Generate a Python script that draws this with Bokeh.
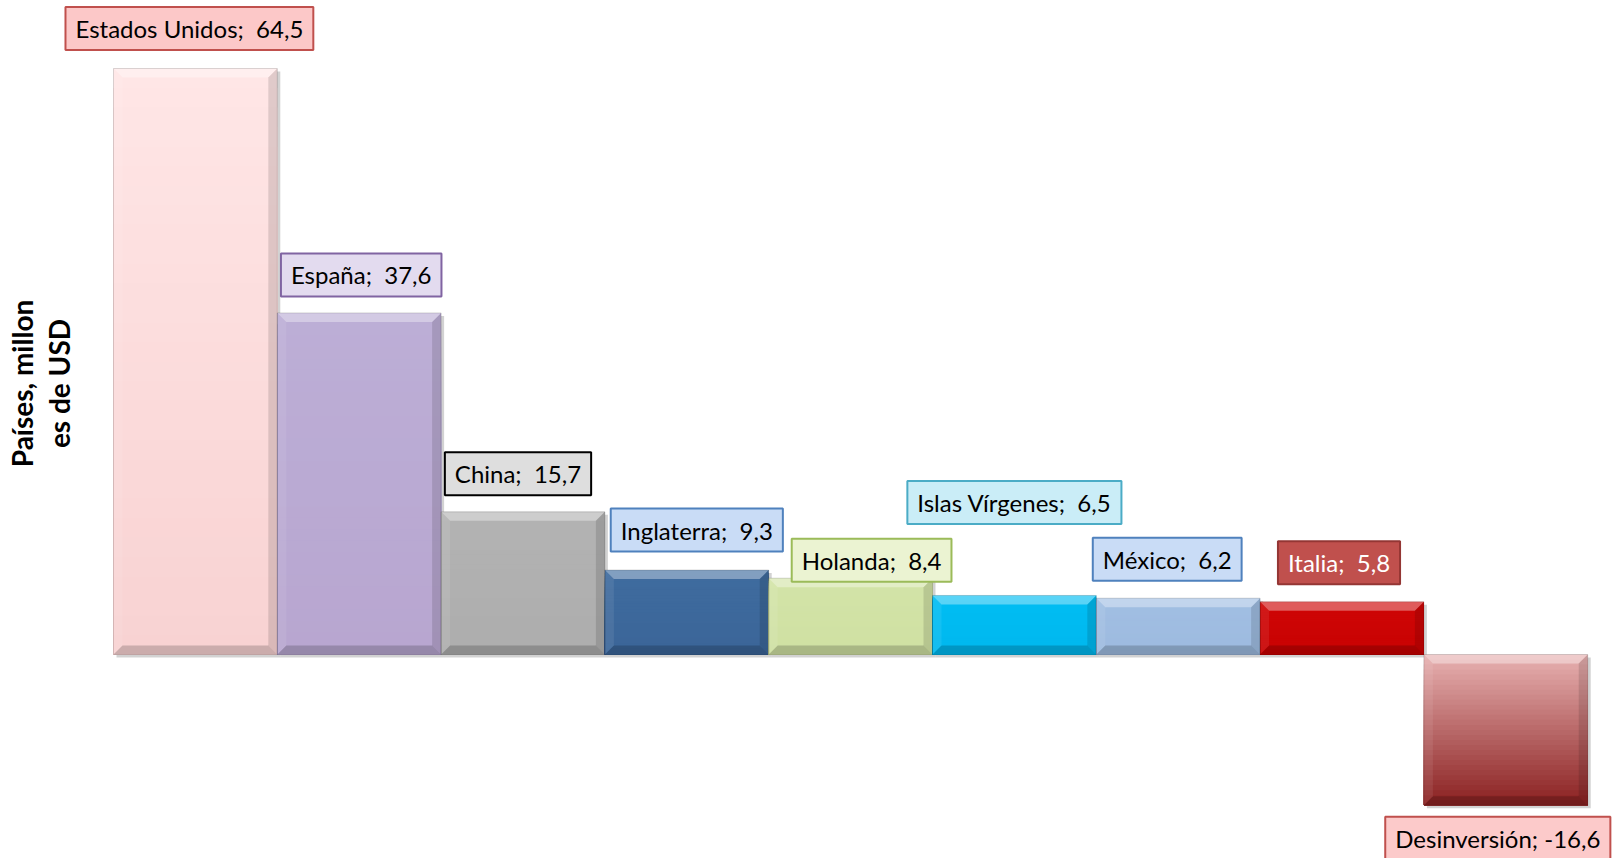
import math
from bokeh.plotting import figure
from bokeh.models import Range1d, Label
from bokeh.embed import file_html
from bokeh.resources import INLINE

# ---- data ----
paises = ["Estados Unidos", "España", "China", "Inglaterra", "Holanda",
          "Islas Vírgenes", "México", "Italia", "Desinversión"]
valores = [64.5, 37.6, 15.7, 9.3, 8.4, 6.5, 6.2, 5.8, -16.6]
titulo_y = "Países, millon\nes de USD"

# ---- styles ----
col_top = ["#ffe6e6", "#bcaed6", "#b3b3b3", "#3f6c9f", "#d3e4a8",
           "#00bdf3", "#a1bfe3", "#cf0606", "#e8b2b2"]
col_bot = ["#f8d2d2", "#b8a6d0", "#adadad", "#3b6598", "#cfe0a2",
           "#00b8ee", "#9dbadf", "#c80202", "#8a2020"]
lab_bg = ["#fcc8c8", "#e3dbef", "#dedede", "#c9dcf6", "#ebf3d2",
          "#caedf7", "#c9dcf6", "#c0504d", "#fccaca"]
lab_border = ["#c0504d", "#8064a2", "#000000", "#4f81bd", "#9bbb59",
              "#4bacc6", "#4f81bd", "#943634", "#c0504d"]
lab_text = ["#000000"] * 7 + ["#ffffff", "#000000"]
# label centre offsets (pixels) from bar end
lab_dx = [-6, 2, -5, 10, 21, 0, -11, -3, -8]
lab_dy = [40, 38, 38, 40, 18, 93, 39, 39, -33]
FONT = "Lato"

W, H = 1614, 858
PPX, PPY = 163.8, 9.085
x0 = -0.5 - 113 / PPX
y1 = 654 / PPY

p = figure(width=W, height=H, output_backend="svg", toolbar_location=None,
           x_range=Range1d(x0, x0 + W / PPX), y_range=Range1d(y1 - H / PPY, y1),
           x_axis_location=None, y_axis_location=None, min_border=0)
p.grid.visible = False
p.outline_line_color = None
p.background_fill_color = "white"


def hex2rgb(h):
    h = h.lstrip("#")
    return tuple(int(h[i:i + 2], 16) for i in (0, 2, 4))


def mix(a, b, t):
    ra, rb = hex2rgb(a), hex2rgb(b)
    return "#%02x%02x%02x" % tuple(int(round(ra[k] + (rb[k] - ra[k]) * t)) for k in range(3))


n = len(valores)
lefts = [i - 0.5 for i in range(n)]
rights = [i + 0.5 for i in range(n)]
tops = [max(v, 0) for v in valores]
bots = [min(v, 0) for v in valores]

# drop shadows
sx, sy = 3 / PPX, 3 / PPY
p.quad(left=[l + sx for l in lefts], right=[r + sx for r in rights],
       top=[t - sy for t in tops], bottom=[b - sy for b in bots],
       fill_color="#7f7f7f", fill_alpha=0.35, line_color=None)

# gradient bars: each strip runs from its top down to the bar bottom (no seams)
NS = 30
ql, qr, qt, qb, qc = [], [], [], [], []
for i in range(n):
    for k in range(NS):
        t0 = tops[i] - (tops[i] - bots[i]) * k / NS
        ql.append(lefts[i]); qr.append(rights[i])
        qt.append(t0); qb.append(bots[i])
        qc.append(mix(col_top[i], col_bot[i], (k + 0.5) / NS))
p.quad(left=ql, right=qr, top=qt, bottom=qb, fill_color=qc, line_color=None)

# bevel
bx, by = 9 / PPX, 9 / PPY
txs, tys, bxs, bys, rxs, rys, lxs, lys = [], [], [], [], [], [], [], []
for i in range(n):
    l, r, t, b = lefts[i], rights[i], tops[i], bots[i]
    txs.append([l, r, r - bx, l + bx]); tys.append([t, t, t - by, t - by])
    bxs.append([l, r, r - bx, l + bx]); bys.append([b, b, b + by, b + by])
    rxs.append([r, r, r - bx, r - bx]); rys.append([t, b, b + by, t - by])
    lxs.append([l, l, l + bx, l + bx]); lys.append([t, b, b + by, t - by])
p.patches(txs, tys, fill_color="white", fill_alpha=0.35, line_color=None)
p.patches(lxs, lys, fill_color="white", fill_alpha=0.08, line_color=None)
p.patches(rxs, rys, fill_color="black", fill_alpha=0.12, line_color=None)
p.patches(bxs, bys, fill_color="black", fill_alpha=0.18, line_color=None)
p.quad(left=lefts, right=rights, top=tops, bottom=bots, fill_color=None,
       line_color="#000000", line_alpha=0.15, line_width=1)

# data labels
for i in range(n):
    sep = " " if valores[i] < 0 else " \u00a0"
    txt = f"{paises[i]};{sep}" + f"{valores[i]:.1f}".replace(".", ",")
    common = dict(x=i, y=valores[i], text=txt, text_align="center", text_baseline="middle",
                  text_font=FONT, text_font_size="24px", padding=(10, 7))
    p.add_layout(Label(x_offset=lab_dx[i] + 3, y_offset=lab_dy[i] - 3, text_alpha=0,
                       background_fill_color="#808080", background_fill_alpha=0.3,
                       **common))
    p.add_layout(Label(x_offset=lab_dx[i], y_offset=lab_dy[i], text_color=lab_text[i],
                       background_fill_color=lab_bg[i], border_line_color=lab_border[i],
                       border_line_width=2, **common))

# y axis title
p.add_layout(Label(x=40, y=H - 383, x_units="screen", y_units="screen", text=titulo_y,
                   angle=math.pi / 2, text_align="center", text_baseline="middle",
                   text_font=FONT, text_font_style="bold", text_font_size="28px",
                   text_color="#000000", text_line_height=1.07))

open("out.html", "w").write(file_html(p, INLINE))
